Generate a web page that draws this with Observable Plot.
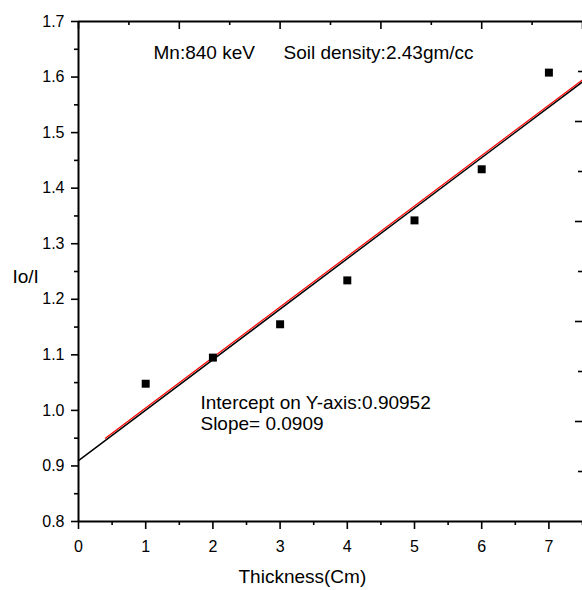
<!DOCTYPE html>
<html>
<head>
<meta charset="utf-8">
<script src="https://cdn.jsdelivr.net/npm/d3@7"></script>
<script src="https://cdn.jsdelivr.net/npm/@observablehq/plot@0.6"></script>
<style>
  html, body { margin: 0; padding: 0; background: #fff; }
  #chart svg { display: block; font-family: "Liberation Sans", Arial, sans-serif; }
</style>
</head>
<body>
<div id="chart"></div>
<script>
// Measured data points (thickness in cm, Io/I)
const thickness = [1, 2, 3, 4, 5, 6, 7];
const ratio = [1.048, 1.095, 1.155, 1.234, 1.342, 1.434, 1.608];

// Fitted lines (endpoints)
const blackFitX = [0, 7.5];
const blackFitY = [0.90952, 1.5913];
const redFitX = [0.4, 7.5];
const redFitY = [0.950, 1.595];

// Axis ticks
const xMajor = [0, 1, 2, 3, 4, 5, 6, 7];
const xMinor = [0.5, 1.5, 2.5, 3.5, 4.5, 5.5, 6.5, 7.5];
const yMajor = [0.8, 0.9, 1.0, 1.1, 1.2, 1.3, 1.4, 1.5, 1.6, 1.7];
const yMinor = [0.85, 0.95, 1.05, 1.15, 1.25, 1.35, 1.45, 1.55, 1.65];
// secondary (top / right) axis ticks, labels hidden
const topMajor = [0, 1.5, 3, 4.5, 6, 7.5];
const topMinor = [0.75, 2.25, 3.75, 5.25, 6.75];
const rightMajor = [0.98, 1.16, 1.34, 1.52];
const rightMinor = [0.89, 1.07, 1.25, 1.43, 1.61];

// Texts
const xLabel = "Thickness(Cm)";
const yLabel = "Io/I";
const notes = [
  {x: 1.116, y: 1.6334, text: "Mn:840 keV"},
  {x: 3.05, y: 1.6334, text: "Soil density:2.43gm/cc"},
  {x: 1.815, y: 1.0017, text: "Intercept on Y-axis:0.90952"},
  {x: 1.815, y: 0.9639, text: "Slope= 0.0909"}
];

const points = thickness.map((t, i) => ({x: t, y: ratio[i]}));
const blackLine = blackFitX.map((x, i) => ({x, y: blackFitY[i]}));
const redLine = redFitX.map((x, i) => ({x, y: redFitY[i]}));

const W = 582, H = 590;
const mL = 78, mR = 0, mT = 21, mB = 69;
const plotW = W - mL - mR, plotH = H - mT - mB;

const chart = Plot.plot({
  width: W,
  height: H,
  marginLeft: mL,
  marginRight: mR,
  marginTop: mT,
  marginBottom: mB,
  style: {fontFamily: "'Liberation Sans', Arial, sans-serif", fontSize: "16px", color: "#000", background: "#fff"},
  x: {domain: [0, 7.5]},
  y: {domain: [0.8, 1.7]},
  marks: [
    // bottom axis
    Plot.axisX({ticks: xMajor, tickSize: 8, tickPadding: 11, tickFormat: d3.format("d"), label: null, strokeWidth: 1.6, fontSize: 16}),
    Plot.axisX({ticks: xMinor, tickSize: 4, tickFormat: () => "", label: null, strokeWidth: 1.6}),
    // left axis
    Plot.axisY({ticks: yMajor, tickSize: 7, tickPadding: 7, tickFormat: d3.format(".1f"), label: null, strokeWidth: 1.6, fontSize: 16}),
    Plot.axisY({ticks: yMinor, tickSize: 4, tickFormat: () => "", label: null, strokeWidth: 1.6}),
    // top inward ticks
    Plot.tickX(topMajor, {x: d => d, insetBottom: plotH - 8, strokeWidth: 1.6}),
    Plot.tickX(topMinor, {x: d => d, insetBottom: plotH - 4, strokeWidth: 1.6}),
    // right inward ticks
    Plot.tickY(rightMajor, {y: d => d, insetLeft: plotW - 7, strokeWidth: 1.6}),
    Plot.tickY(rightMinor, {y: d => d, insetLeft: plotW - 4, strokeWidth: 1.6}),
    // frame lines
    Plot.ruleX([0], {strokeWidth: 2}),
    Plot.ruleY([0.8], {strokeWidth: 2}),
    Plot.ruleY([1.7], {strokeWidth: 2}),
    // fits
    Plot.line(blackLine, {x: "x", y: "y", stroke: "#000", strokeWidth: 1.5}),
    Plot.line(redLine, {x: "x", y: "y", stroke: "#ff0000", strokeWidth: 1.2}),
    // data
    Plot.dot(points, {x: "x", y: "y", symbol: "square", r: 4.5, fill: "#000", stroke: null}),
    // annotations
    Plot.text(notes, {x: "x", y: "y", text: "text", textAnchor: "start", lineAnchor: "bottom", fontSize: 19, fill: "#000"}),
    Plot.text([xLabel], {x: [2.381], frameAnchor: "bottom", textAnchor: "start", lineAnchor: "bottom", dy: 61, fontSize: 19, fill: "#000"}),
    Plot.text([yLabel], {y: [1.2302], frameAnchor: "left", textAnchor: "start", lineAnchor: "bottom", dx: -66, fontSize: 19, fill: "#000"})
  ]
});
document.getElementById("chart").append(chart);
</script>
</body>
</html>
